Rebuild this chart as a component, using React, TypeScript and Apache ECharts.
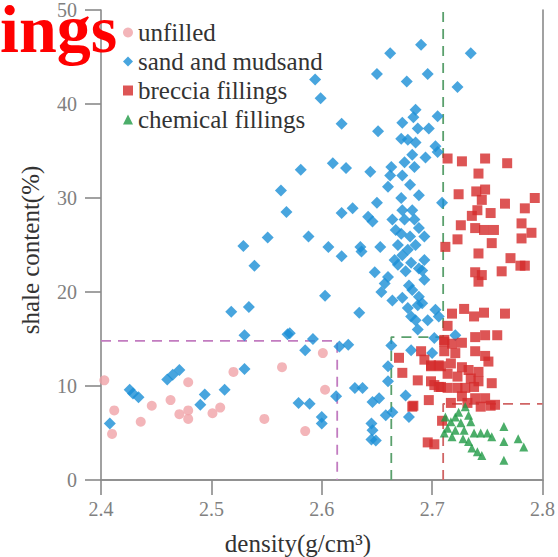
import React, { useEffect, useRef } from "react";
import * as echarts from "echarts";

const unfilled: number[][] = [
  [2.403, 10.6], [2.412, 7.4], [2.41, 4.9], [2.436, 6.2], [2.446, 7.9], [2.463, 8.5],
  [2.479, 10.4], [2.471, 7.0], [2.479, 7.4], [2.479, 6.5], [2.501, 7.1], [2.508, 7.7],
  [2.52, 11.5], [2.548, 6.5], [2.564, 12.0], [2.601, 13.5], [2.603, 9.6], [2.585, 5.2],
];

const sandMudsand: number[][] = [
  [2.408, 6.0], [2.426, 9.6], [2.429, 9.2], [2.434, 8.8], [2.46, 10.7], [2.465, 11.2], [2.471, 11.7],
  [2.49, 8.0], [2.494, 9.1], [2.512, 9.6], [2.53, 11.8], [2.53, 15.4], [2.534, 18.4], [2.518, 17.9],
  [2.529, 24.9], [2.539, 22.8], [2.551, 25.8], [2.563, 30.8], [2.568, 28.5], [2.569, 15.5],
  [2.69, 46.3], [2.662, 45.4], [2.65, 43.2], [2.677, 42.4], [2.696, 43.2], [2.594, 42.6], [2.599, 40.6],
  [2.618, 37.9], [2.651, 37.1], [2.685, 39.4], [2.683, 38.6], [2.673, 38.0], [2.687, 37.4], [2.697, 37.4],
  [2.705, 38.7], [2.672, 36.3], [2.678, 36.2], [2.685, 35.9], [2.703, 35.5], [2.705, 34.9], [2.682, 34.6],
  [2.694, 34.3], [2.675, 33.8], [2.581, 33.0], [2.61, 33.7], [2.622, 33.2], [2.644, 32.8], [2.663, 33.3],
  [2.662, 32.4], [2.673, 32.4], [2.684, 33.3], [2.68, 31.4], [2.66, 31.2], [2.688, 30.3], [2.672, 30.0],
  [2.709, 29.5], [2.65, 29.5], [2.642, 28.0], [2.618, 28.4], [2.628, 28.9], [2.673, 28.7], [2.682, 28.7],
  [2.675, 27.7], [2.684, 27.7], [2.688, 26.8], [2.664, 27.7], [2.646, 27.5], [2.588, 25.9], [2.672, 26.2],
  [2.693, 25.9], [2.606, 24.8], [2.635, 24.8], [2.653, 24.8], [2.618, 23.8], [2.636, 24.3], [2.666, 23.4],
  [2.673, 23.9], [2.681, 23.1], [2.688, 22.5], [2.693, 23.4], [2.648, 22.1], [2.66, 21.6], [2.676, 22.2],
  [2.693, 21.3], [2.657, 20.9], [2.654, 20.0], [2.679, 20.7], [2.688, 19.5], [2.691, 18.8], [2.603, 19.6],
  [2.634, 17.8], [2.678, 18.3], [2.681, 17.4], [2.696, 17.0], [2.703, 18.1], [2.706, 17.4], [2.687, 16.0],
  [2.702, 15.1], [2.571, 15.6], [2.592, 15.0], [2.585, 13.8], [2.624, 14.4], [2.616, 14.2], [2.663, 14.3],
  [2.681, 13.8], [2.7, 13.5], [2.66, 12.1], [2.66, 10.5], [2.63, 9.8], [2.637, 9.8], [2.613, 8.9],
  [2.579, 8.2], [2.589, 8.1], [2.646, 8.3], [2.652, 8.7], [2.676, 9.0], [2.658, 6.9], [2.664, 7.2],
  [2.6, 6.7], [2.6, 6.0], [2.679, 6.7], [2.645, 6.0], [2.646, 5.3], [2.645, 4.3], [2.649, 4.2],
  [2.721, 15.4], [2.735, 45.4], [2.723, 41.8], [2.667, 26.6], [2.669, 25.0], [2.678, 24.5], [2.685, 25.0],
  [2.669, 22.9], [2.682, 20.2], [2.687, 18.6], [2.685, 17.0], [2.673, 19.4], [2.664, 19.1], [2.691, 22.3],
  [2.68, 25.9],
];

const brecciaFillings: number[][] = [
  [2.714, 34.2], [2.727, 33.9], [2.748, 34.2], [2.768, 33.7], [2.742, 32.6], [2.724, 30.4], [2.74, 30.7],
  [2.748, 30.9], [2.745, 29.8], [2.766, 29.4], [2.793, 30.0], [2.784, 28.9], [2.741, 28.7], [2.736, 28.1],
  [2.753, 28.4], [2.726, 27.1], [2.739, 26.8], [2.747, 26.6], [2.756, 26.6], [2.781, 27.3], [2.79, 26.3],
  [2.723, 25.6], [2.754, 25.2], [2.781, 25.7], [2.712, 24.8], [2.742, 24.1], [2.771, 23.6], [2.78, 22.8],
  [2.784, 22.8], [2.763, 22.2], [2.739, 22.1], [2.745, 21.8], [2.742, 21.1], [2.718, 17.7], [2.729, 18.2],
  [2.738, 17.4], [2.747, 17.8], [2.766, 17.7], [2.714, 16.4], [2.739, 15.2], [2.748, 15.4], [2.759, 15.4],
  [2.711, 14.7], [2.718, 14.5], [2.727, 14.6], [2.711, 13.7], [2.721, 13.5], [2.739, 13.7], [2.748, 13.2],
  [2.751, 12.6], [2.708, 12.1], [2.717, 12.4], [2.727, 12.0], [2.733, 11.7], [2.742, 11.5], [2.714, 11.3],
  [2.723, 11.0], [2.735, 10.8], [2.742, 10.5], [2.754, 10.3], [2.706, 9.9], [2.714, 9.8], [2.723, 9.8],
  [2.73, 9.8], [2.738, 9.9], [2.727, 8.9], [2.739, 8.7], [2.748, 8.7], [2.717, 8.2], [2.732, 8.2],
  [2.744, 7.8], [2.753, 7.9], [2.757, 8.0], [2.67, 13.0], [2.69, 13.7], [2.693, 12.8], [2.699, 12.2],
  [2.706, 12.2], [2.673, 11.4], [2.687, 10.6], [2.699, 10.5], [2.702, 10.1], [2.708, 9.9], [2.697, 8.5],
  [2.683, 7.9], [2.709, 6.3], [2.696, 4.0], [2.702, 3.8], [2.711, 14.9], [2.699, 12.1], [2.682, 7.8],
];

const chemicalFillings: number[][] = [
  [2.73, 7.8], [2.721, 6.7], [2.733, 6.9], [2.717, 6.2], [2.726, 6.1], [2.735, 6.2], [2.714, 5.5],
  [2.721, 5.3], [2.729, 5.3], [2.738, 5.0], [2.744, 5.0], [2.75, 5.0], [2.754, 4.6], [2.765, 5.7],
  [2.765, 4.1], [2.778, 4.4], [2.783, 3.5], [2.733, 4.1], [2.736, 3.4], [2.741, 3.0], [2.745, 2.6],
  [2.765, 2.1], [2.711, 5.0], [2.724, 7.2], [2.718, 4.6], [2.728, 4.4], [2.712, 6.7],
];

const unfilledBoundary: number[][] = [[2.4, 14.8], [2.614, 14.8], [2.614, 0]];
const sandBoundary: number[][] = [[2.663, 0], [2.663, 15.2], [2.71, 15.2], [2.71, 50]];
const chemicalBoundary: number[][] = [[2.71, 0], [2.71, 8.1], [2.8, 8.1]];

const xTicks = { min: 2.4, max: 2.8, interval: 0.1 };
const yTicks = { min: 0, max: 50, interval: 10 };

const SERIF = "Liberation Serif";
const AXIS_GRAY = "#8a8a8a";

export default function App() {
  const ref = useRef<HTMLDivElement>(null);
  useEffect(() => {
    if (!ref.current) return;
    const chart = echarts.init(ref.current, undefined, { renderer: "svg" });
    const axisLine = { show: true, lineStyle: { color: AXIS_GRAY, width: 1.6 } };
    const dashed = (name: string, data: number[][], color: string) => ({
      name,
      type: "line",
      data,
      symbol: "none",
      silent: true,
      z: 1,
      lineStyle: { color, width: 1.8, type: [10, 7] },
    });
    chart.setOption({
      animation: false,
      backgroundColor: "#ffffff",
      grid: { left: 101, right: 12, top: 10, bottom: 77 },
      xAxis: [
        {
          type: "value",
          min: xTicks.min,
          max: xTicks.max,
          interval: xTicks.interval,
          axisLine,
          axisTick: { show: true, length: 15, lineStyle: { color: AXIS_GRAY, width: 1.6 } },
          axisLabel: {
            margin: 19,
            color: "#808080",
            fontFamily: SERIF,
            fontSize: 20,
            formatter: (v: number) => v.toFixed(1),
          },
          splitLine: { show: false },
        },
        {
          type: "value",
          position: "top",
          min: xTicks.min,
          max: xTicks.max,
          axisLine,
          axisTick: { show: false },
          axisLabel: { show: false },
          splitLine: { show: false },
        },
      ],
      yAxis: [
        {
          type: "value",
          min: yTicks.min,
          max: yTicks.max,
          interval: yTicks.interval,
          axisLine,
          axisTick: { show: true, length: 16, lineStyle: { color: AXIS_GRAY, width: 1.6 } },
          axisLabel: { margin: 24, color: "#808080", fontFamily: SERIF, fontSize: 20 },
          splitLine: { show: false },
        },
        {
          type: "value",
          position: "right",
          min: yTicks.min,
          max: yTicks.max,
          axisLine,
          axisTick: { show: false },
          axisLabel: { show: false },
          splitLine: { show: false },
        },
      ],
      legend: {
        orient: "vertical",
        left: 123,
        top: 20,
        padding: 0,
        itemGap: 4,
        itemWidth: 10,
        itemHeight: 10,
        textStyle: { fontFamily: SERIF, fontSize: 25, color: "#333333", lineHeight: 25 },
        data: [
          { name: "unfilled", icon: "circle" },
          { name: "sand and mudsand", icon: "diamond" },
          { name: "breccia fillings", icon: "rect" },
          { name: "chemical fillings", icon: "triangle" },
        ],
      },
      series: [
        dashed("unfilled boundary", unfilledBoundary, "#c27cc0"),
        dashed("sand boundary", sandBoundary, "#5aa06c"),
        dashed("chemical boundary", chemicalBoundary, "#d06464"),
        {
          name: "unfilled",
          type: "scatter",
          symbol: "circle",
          symbolSize: 10,
          itemStyle: { color: "#f0a3a8" },
          data: unfilled,
          z: 3,
        },
        {
          name: "sand and mudsand",
          type: "scatter",
          symbol: "diamond",
          symbolSize: 12,
          itemStyle: { color: "#1a8fd6" },
          data: sandMudsand,
          z: 3,
        },
        {
          name: "breccia fillings",
          type: "scatter",
          symbol: "rect",
          symbolSize: 10,
          itemStyle: { color: "#d42b2b" },
          data: brecciaFillings,
          z: 3,
        },
        {
          name: "chemical fillings",
          type: "scatter",
          symbol: "triangle",
          symbolSize: 9,
          itemStyle: { color: "#1f9a45" },
          data: chemicalFillings,
          z: 3,
        },
      ],
      graphic: [
        {
          type: "text",
          x: 30,
          y: 250,
          rotation: Math.PI / 2,
          style: {
            text: "shale content(%)",
            font: `25px ${SERIF}`,
            fill: "#333333",
            align: "center",
            verticalAlign: "middle",
          },
        },
        {
          type: "text",
          x: 298,
          y: 543,
          style: {
            text: "density(g/cm³)",
            font: `25px ${SERIF}`,
            fill: "#333333",
            align: "center",
            verticalAlign: "middle",
          },
        },
        {
          type: "text",
          x: 0,
          y: 29,
          z: 100,
          style: {
            text: "ings",
            font: `bold 68px ${SERIF}`,
            fill: "#ff0000",
            align: "left",
            verticalAlign: "middle",
          },
        },
      ],
    });
    return () => chart.dispose();
  }, []);
  return (
    <div
      ref={ref}
      style={{ position: "fixed", left: 0, top: 0, width: 558, height: 557, background: "#fff" }}
    />
  );
}
